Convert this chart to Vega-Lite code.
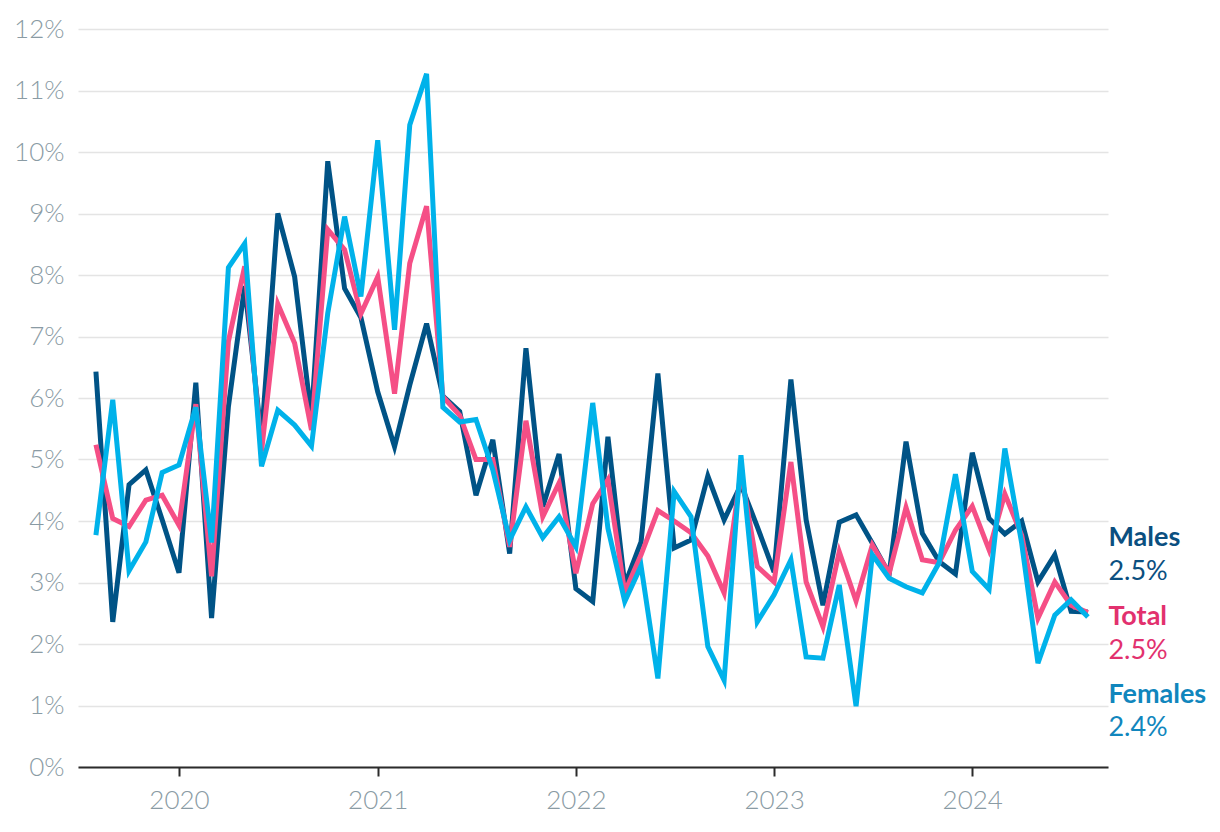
{
  "$schema": "https://vega.github.io/schema/vega-lite/v6.json",
  "autosize": {"type": "none"},
  "padding": {"left": 78, "top": 29, "right": 112, "bottom": 65},
  "width": 1030,
  "height": 738,
  "background": "white",
  "config": {
    "view": {"stroke": null},
    "font": "Lato",
    "axis": {"labelFont": "Lato", "labelFontWeight": 300, "labelColor": "#8a9ba4", "labelFontSize": 26}
  },
  "data": {
    "values": [
      {"date":"2019-08-01","series":"Males","value":6.43},
      {"date":"2019-09-01","series":"Males","value":2.36},
      {"date":"2019-10-01","series":"Males","value":4.59},
      {"date":"2019-11-01","series":"Males","value":4.83},
      {"date":"2019-12-01","series":"Males","value":4.02},
      {"date":"2020-01-01","series":"Males","value":3.16},
      {"date":"2020-02-01","series":"Males","value":6.25},
      {"date":"2020-03-01","series":"Males","value":2.42},
      {"date":"2020-04-01","series":"Males","value":5.86},
      {"date":"2020-05-01","series":"Males","value":7.82},
      {"date":"2020-06-01","series":"Males","value":5.35},
      {"date":"2020-07-01","series":"Males","value":9.0},
      {"date":"2020-08-01","series":"Males","value":7.97},
      {"date":"2020-09-01","series":"Males","value":5.67},
      {"date":"2020-10-01","series":"Males","value":9.85},
      {"date":"2020-11-01","series":"Males","value":7.78},
      {"date":"2020-12-01","series":"Males","value":7.31},
      {"date":"2021-01-01","series":"Males","value":6.1},
      {"date":"2021-02-01","series":"Males","value":5.21},
      {"date":"2021-03-01","series":"Males","value":6.21},
      {"date":"2021-04-01","series":"Males","value":7.21},
      {"date":"2021-05-01","series":"Males","value":6.03},
      {"date":"2021-06-01","series":"Males","value":5.78},
      {"date":"2021-07-01","series":"Males","value":4.42},
      {"date":"2021-08-01","series":"Males","value":5.32},
      {"date":"2021-09-01","series":"Males","value":3.47},
      {"date":"2021-10-01","series":"Males","value":6.81},
      {"date":"2021-11-01","series":"Males","value":4.23},
      {"date":"2021-12-01","series":"Males","value":5.09},
      {"date":"2022-01-01","series":"Males","value":2.9},
      {"date":"2022-02-01","series":"Males","value":2.69},
      {"date":"2022-03-01","series":"Males","value":5.37},
      {"date":"2022-04-01","series":"Males","value":2.96},
      {"date":"2022-05-01","series":"Males","value":3.66},
      {"date":"2022-06-01","series":"Males","value":6.4},
      {"date":"2022-07-01","series":"Males","value":3.56},
      {"date":"2022-08-01","series":"Males","value":3.69},
      {"date":"2022-09-01","series":"Males","value":4.73},
      {"date":"2022-10-01","series":"Males","value":4.02},
      {"date":"2022-11-01","series":"Males","value":4.59},
      {"date":"2022-12-01","series":"Males","value":3.91},
      {"date":"2023-01-01","series":"Males","value":3.17},
      {"date":"2023-02-01","series":"Males","value":6.3},
      {"date":"2023-03-01","series":"Males","value":4.02},
      {"date":"2023-04-01","series":"Males","value":2.63},
      {"date":"2023-05-01","series":"Males","value":3.98},
      {"date":"2023-06-01","series":"Males","value":4.1},
      {"date":"2023-07-01","series":"Males","value":3.64},
      {"date":"2023-08-01","series":"Males","value":3.14},
      {"date":"2023-09-01","series":"Males","value":5.29},
      {"date":"2023-10-01","series":"Males","value":3.8},
      {"date":"2023-11-01","series":"Males","value":3.34},
      {"date":"2023-12-01","series":"Males","value":3.14},
      {"date":"2024-01-01","series":"Males","value":5.11},
      {"date":"2024-02-01","series":"Males","value":4.04},
      {"date":"2024-03-01","series":"Males","value":3.79},
      {"date":"2024-04-01","series":"Males","value":4.0},
      {"date":"2024-05-01","series":"Males","value":3.01},
      {"date":"2024-06-01","series":"Males","value":3.45},
      {"date":"2024-07-01","series":"Males","value":2.53},
      {"date":"2024-08-01","series":"Males","value":2.52},
      {"date":"2019-08-01","series":"Total","value":5.24},
      {"date":"2019-09-01","series":"Total","value":4.04},
      {"date":"2019-10-01","series":"Total","value":3.91},
      {"date":"2019-11-01","series":"Total","value":4.34},
      {"date":"2019-12-01","series":"Total","value":4.42},
      {"date":"2020-01-01","series":"Total","value":3.93},
      {"date":"2020-02-01","series":"Total","value":5.9},
      {"date":"2020-03-01","series":"Total","value":3.1},
      {"date":"2020-04-01","series":"Total","value":6.92},
      {"date":"2020-05-01","series":"Total","value":8.14},
      {"date":"2020-06-01","series":"Total","value":5.13},
      {"date":"2020-07-01","series":"Total","value":7.53},
      {"date":"2020-08-01","series":"Total","value":6.89},
      {"date":"2020-09-01","series":"Total","value":5.48},
      {"date":"2020-10-01","series":"Total","value":8.74},
      {"date":"2020-11-01","series":"Total","value":8.41},
      {"date":"2020-12-01","series":"Total","value":7.37},
      {"date":"2021-01-01","series":"Total","value":7.97},
      {"date":"2021-02-01","series":"Total","value":6.07},
      {"date":"2021-03-01","series":"Total","value":8.19},
      {"date":"2021-04-01","series":"Total","value":9.12},
      {"date":"2021-05-01","series":"Total","value":6.02},
      {"date":"2021-06-01","series":"Total","value":5.72},
      {"date":"2021-07-01","series":"Total","value":5.0},
      {"date":"2021-08-01","series":"Total","value":5.0},
      {"date":"2021-09-01","series":"Total","value":3.58},
      {"date":"2021-10-01","series":"Total","value":5.63},
      {"date":"2021-11-01","series":"Total","value":4.07},
      {"date":"2021-12-01","series":"Total","value":4.62},
      {"date":"2022-01-01","series":"Total","value":3.15},
      {"date":"2022-02-01","series":"Total","value":4.28},
      {"date":"2022-03-01","series":"Total","value":4.67},
      {"date":"2022-04-01","series":"Total","value":2.84},
      {"date":"2022-05-01","series":"Total","value":3.45},
      {"date":"2022-06-01","series":"Total","value":4.17},
      {"date":"2022-07-01","series":"Total","value":4.0},
      {"date":"2022-08-01","series":"Total","value":3.81},
      {"date":"2022-09-01","series":"Total","value":3.43},
      {"date":"2022-10-01","series":"Total","value":2.83},
      {"date":"2022-11-01","series":"Total","value":4.8},
      {"date":"2022-12-01","series":"Total","value":3.26},
      {"date":"2023-01-01","series":"Total","value":3.01},
      {"date":"2023-02-01","series":"Total","value":4.96},
      {"date":"2023-03-01","series":"Total","value":3.01},
      {"date":"2023-04-01","series":"Total","value":2.28},
      {"date":"2023-05-01","series":"Total","value":3.5},
      {"date":"2023-06-01","series":"Total","value":2.7},
      {"date":"2023-07-01","series":"Total","value":3.61},
      {"date":"2023-08-01","series":"Total","value":3.15},
      {"date":"2023-09-01","series":"Total","value":4.22},
      {"date":"2023-10-01","series":"Total","value":3.37},
      {"date":"2023-11-01","series":"Total","value":3.32},
      {"date":"2023-12-01","series":"Total","value":3.85},
      {"date":"2024-01-01","series":"Total","value":4.24},
      {"date":"2024-02-01","series":"Total","value":3.53},
      {"date":"2024-03-01","series":"Total","value":4.44},
      {"date":"2024-04-01","series":"Total","value":3.77},
      {"date":"2024-05-01","series":"Total","value":2.42},
      {"date":"2024-06-01","series":"Total","value":3.01},
      {"date":"2024-07-01","series":"Total","value":2.63},
      {"date":"2024-08-01","series":"Total","value":2.51},
      {"date":"2019-08-01","series":"Females","value":3.77},
      {"date":"2019-09-01","series":"Females","value":5.97},
      {"date":"2019-10-01","series":"Females","value":3.19},
      {"date":"2019-11-01","series":"Females","value":3.66},
      {"date":"2019-12-01","series":"Females","value":4.79},
      {"date":"2020-01-01","series":"Females","value":4.91},
      {"date":"2020-02-01","series":"Females","value":5.85},
      {"date":"2020-03-01","series":"Females","value":3.65},
      {"date":"2020-04-01","series":"Females","value":8.12},
      {"date":"2020-05-01","series":"Females","value":8.51},
      {"date":"2020-06-01","series":"Females","value":4.89},
      {"date":"2020-07-01","series":"Females","value":5.8},
      {"date":"2020-08-01","series":"Females","value":5.56},
      {"date":"2020-09-01","series":"Females","value":5.22},
      {"date":"2020-10-01","series":"Females","value":7.38},
      {"date":"2020-11-01","series":"Females","value":8.95},
      {"date":"2020-12-01","series":"Females","value":7.65},
      {"date":"2021-01-01","series":"Females","value":10.19},
      {"date":"2021-02-01","series":"Females","value":7.11},
      {"date":"2021-03-01","series":"Females","value":10.44},
      {"date":"2021-04-01","series":"Females","value":11.27},
      {"date":"2021-05-01","series":"Females","value":5.85},
      {"date":"2021-06-01","series":"Females","value":5.61},
      {"date":"2021-07-01","series":"Females","value":5.65},
      {"date":"2021-08-01","series":"Females","value":4.83},
      {"date":"2021-09-01","series":"Females","value":3.69},
      {"date":"2021-10-01","series":"Females","value":4.23},
      {"date":"2021-11-01","series":"Females","value":3.73},
      {"date":"2021-12-01","series":"Females","value":4.07},
      {"date":"2022-01-01","series":"Females","value":3.58},
      {"date":"2022-02-01","series":"Females","value":5.92},
      {"date":"2022-03-01","series":"Females","value":3.88},
      {"date":"2022-04-01","series":"Females","value":2.69},
      {"date":"2022-05-01","series":"Females","value":3.27},
      {"date":"2022-06-01","series":"Females","value":1.44},
      {"date":"2022-07-01","series":"Females","value":4.48},
      {"date":"2022-08-01","series":"Females","value":4.07},
      {"date":"2022-09-01","series":"Females","value":1.96},
      {"date":"2022-10-01","series":"Females","value":1.41},
      {"date":"2022-11-01","series":"Females","value":5.07},
      {"date":"2022-12-01","series":"Females","value":2.36},
      {"date":"2023-01-01","series":"Females","value":2.8},
      {"date":"2023-02-01","series":"Females","value":3.37},
      {"date":"2023-03-01","series":"Females","value":1.79},
      {"date":"2023-04-01","series":"Females","value":1.77},
      {"date":"2023-05-01","series":"Females","value":2.96},
      {"date":"2023-06-01","series":"Females","value":0.99},
      {"date":"2023-07-01","series":"Females","value":3.45},
      {"date":"2023-08-01","series":"Females","value":3.07},
      {"date":"2023-09-01","series":"Females","value":2.93},
      {"date":"2023-10-01","series":"Females","value":2.83},
      {"date":"2023-11-01","series":"Females","value":3.32},
      {"date":"2023-12-01","series":"Females","value":4.76},
      {"date":"2024-01-01","series":"Females","value":3.18},
      {"date":"2024-02-01","series":"Females","value":2.89},
      {"date":"2024-03-01","series":"Females","value":5.18},
      {"date":"2024-04-01","series":"Females","value":3.64},
      {"date":"2024-05-01","series":"Females","value":1.69},
      {"date":"2024-06-01","series":"Females","value":2.47},
      {"date":"2024-07-01","series":"Females","value":2.72},
      {"date":"2024-08-01","series":"Females","value":2.44}
    ]
  },
  "encoding": {
    "x": {
      "field": "date", "type": "temporal",
      "scale": {"type": "utc", "domain": [{"year": 2019, "month": 6, "date": 29, "utc": true}, {"year": 2024, "month": 9, "date": 7, "utc": true}]},
      "axis": {
        "title": null, "format": "%Y", "formatType": "utc",
        "values": [{"year": 2020, "utc": true}, {"year": 2021, "utc": true}, {"year": 2022, "utc": true}, {"year": 2023, "utc": true}, {"year": 2024, "utc": true}],
        "grid": false, "domainColor": "#2b2b2b", "domainWidth": 2,
        "tickColor": "#2b2b2b", "tickWidth": 2, "tickSize": 9, "labelPadding": 11
      }
    },
    "y": {
      "field": "value", "type": "quantitative",
      "scale": {"domain": [0, 12], "nice": false, "zero": true},
      "axis": {
        "title": null, "values": [0,1,2,3,4,5,6,7,8,9,10,11,12],
        "labelExpr": "datum.value + '%'",
        "domain": false, "ticks": false, "labelPadding": 14,
        "gridColor": "#e4e4e4", "gridWidth": 1.5
      }
    }
  },
  "layer": [
    {
      "mark": {"type": "line", "strokeWidth": 5, "strokeJoin": "miter", "strokeCap": "butt"},
      "encoding": {
        "color": {
          "field": "series", "type": "nominal",
          "scale": {"domain": ["Females", "Total", "Males"], "range": ["#00b2ea", "#f54f86", "#005386"]},
          "legend": null
        },
        "order": {"field": "date", "type": "temporal"}
      }
    },
    {
      "transform": [{"filter": {"and": [{"field": "series", "equal": "Males"}, {"field": "date", "timeUnit": "utcyearmonth", "equal": {"year": 2024, "month": 8, "utc": true}}]}}],
      "mark": {"type": "text", "align": "left", "baseline": "alphabetic", "dx": 20.5, "dy": -66, "font": "Lato", "fontWeight": "bold", "fontSize": 27, "color": "#0b4f80"},
      "encoding": {"text": {"field": "series"}}
    },
    {
      "transform": [{"filter": {"and": [{"field": "series", "equal": "Males"}, {"field": "date", "timeUnit": "utcyearmonth", "equal": {"year": 2024, "month": 8, "utc": true}}]}}, {"calculate": "format(datum.value, '.1f') + '%'", "as": "label"}],
      "mark": {"type": "text", "align": "left", "baseline": "alphabetic", "dx": 20.5, "dy": -32, "font": "Lato", "fontSize": 27, "color": "#0b4f80"},
      "encoding": {"text": {"field": "label"}}
    },
    {
      "transform": [{"filter": {"and": [{"field": "series", "equal": "Total"}, {"field": "date", "timeUnit": "utcyearmonth", "equal": {"year": 2024, "month": 8, "utc": true}}]}}],
      "mark": {"type": "text", "align": "left", "baseline": "alphabetic", "dx": 20.5, "dy": 12, "font": "Lato", "fontWeight": "bold", "fontSize": 27, "color": "#e2316e"},
      "encoding": {"text": {"field": "series"}}
    },
    {
      "transform": [{"filter": {"and": [{"field": "series", "equal": "Total"}, {"field": "date", "timeUnit": "utcyearmonth", "equal": {"year": 2024, "month": 8, "utc": true}}]}}, {"calculate": "format(datum.value, '.1f') + '%'", "as": "label"}],
      "mark": {"type": "text", "align": "left", "baseline": "alphabetic", "dx": 20.5, "dy": 46, "font": "Lato", "fontSize": 27, "color": "#e2316e"},
      "encoding": {"text": {"field": "label"}}
    },
    {
      "transform": [{"filter": {"and": [{"field": "series", "equal": "Females"}, {"field": "date", "timeUnit": "utcyearmonth", "equal": {"year": 2024, "month": 8, "utc": true}}]}}],
      "mark": {"type": "text", "align": "left", "baseline": "alphabetic", "dx": 20.5, "dy": 86, "font": "Lato", "fontWeight": "bold", "fontSize": 27, "color": "#1186bd"},
      "encoding": {"text": {"field": "series"}}
    },
    {
      "transform": [{"filter": {"and": [{"field": "series", "equal": "Females"}, {"field": "date", "timeUnit": "utcyearmonth", "equal": {"year": 2024, "month": 8, "utc": true}}]}}, {"calculate": "format(datum.value, '.1f') + '%'", "as": "label"}],
      "mark": {"type": "text", "align": "left", "baseline": "alphabetic", "dx": 20.5, "dy": 119, "font": "Lato", "fontSize": 27, "color": "#1186bd"},
      "encoding": {"text": {"field": "label"}}
    }
  ]
}
